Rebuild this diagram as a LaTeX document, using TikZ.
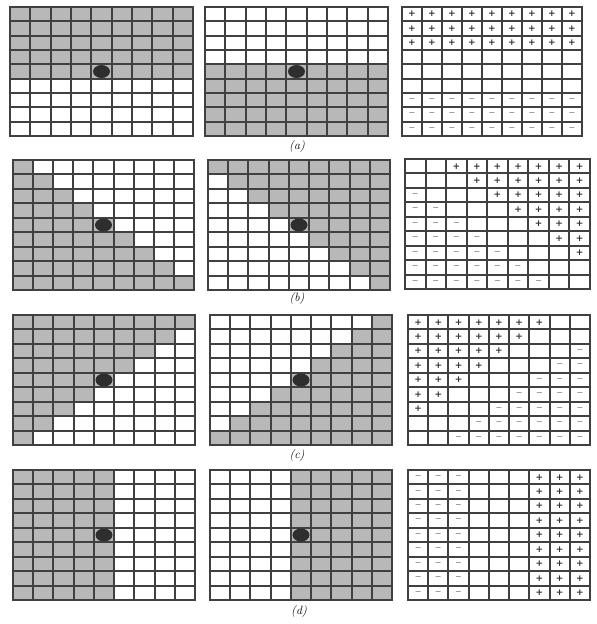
\documentclass[tikz,border=0pt]{standalone}
\usepackage{fontspec}
\newfontfamily\signfont{DejaVu Sans}
\tikzset{
  gcell/.style={fill=black!28},
  gline/.style={draw=black!75, line width=1.6pt},
  gframe/.style={draw=black!75, line width=2pt},
  dotmark/.style={fill=black!82},
  plusmark/.style={font=\signfont\bfseries\fontsize{9}{9}\selectfont, inner sep=0pt, text=black!80},
  minusmark/.style={font=\signfont\fontsize{8}{8}\selectfont, inner sep=0pt, text=black!55},
  caplabel/.style={font=\fontsize{12}{12}\selectfont\itshape, inner sep=1pt},
}
% grid lines of a 9x9 grid
\newcommand\gridlines[4]{%
  \pgfmathsetmacro\gxa{#1}\pgfmathsetmacro\gya{#2}%
  \pgfmathsetmacro\gcw{(#3-#1)/9}\pgfmathsetmacro\gch{(#4-#2)/9}%
  \foreach \i in {1,...,8}{%
    \draw[gline] ({round(\gxa+\i*\gcw)},#2) -- ({round(\gxa+\i*\gcw)},#4);
    \draw[gline] (#1,{round(\gya+\i*\gch)}) -- (#3,{round(\gya+\i*\gch)});
  }%
  \draw[gframe] (#1,#2) rectangle (#3,#4);
}
% shaded grid: x0 y0 x1 y1, first and last grey column as function of row \r
\newcommand\shadegrid[6]{%
  \pgfmathsetmacro\gxa{#1}\pgfmathsetmacro\gya{#2}%
  \pgfmathsetmacro\gcw{(#3-#1)/9}\pgfmathsetmacro\gch{(#4-#2)/9}%
  \foreach \r in {1,...,9}{%
    \pgfmathtruncatemacro\gcs{#5}\pgfmathtruncatemacro\gce{#6}%
    \ifnum\gcs>\gce\relax\else
      \fill[gcell] ({round(\gxa+(\gcs-1)*\gcw)},{round(\gya+(\r-1)*\gch)}) rectangle ({round(\gxa+\gce*\gcw)},{round(\gya+\r*\gch)});
    \fi
  }%
  \gridlines{#1}{#2}{#3}{#4}%
  \pgfmathsetmacro\gxa{#1}\pgfmathsetmacro\gya{#2}%
  \pgfmathsetmacro\gcw{(#3-#1)/9}\pgfmathsetmacro\gch{(#4-#2)/9}%
  \fill[dotmark] ({\gxa+4.5*\gcw},{\gya+4.5*\gch}) ellipse (8.5pt and 6.5pt);
}
% sign grid: x0 y0 x1 y1, plus first/last column, minus first/last column
\newcommand\signgrid[8]{%
  \gridlines{#1}{#2}{#3}{#4}%
  \pgfmathsetmacro\gxa{#1}\pgfmathsetmacro\gya{#2}%
  \pgfmathsetmacro\gcw{(#3-#1)/9}\pgfmathsetmacro\gch{(#4-#2)/9}%
  \foreach \r in {1,...,9}{%
    \pgfmathtruncatemacro\gps{#5}\pgfmathtruncatemacro\gpe{#6}%
    \pgfmathtruncatemacro\gms{#7}\pgfmathtruncatemacro\gme{#8}%
    \ifnum\gps>\gpe\relax\else
      \foreach \c in {\gps,...,\gpe}{%
        \node[plusmark] (p#2-\r-\c) at ({\gxa+(\c-0.5)*\gcw},{\gya+(\r-0.5)*\gch}) {+};
      }%
    \fi
    \ifnum\gms>\gme\relax\else
      \foreach \c in {\gms,...,\gme}{%
        \node[minusmark] (m#2-\r-\c) at ({\gxa+(\c-0.5)*\gcw},{\gya+(\r-0.5)*\gch}) {−};
      }%
    \fi
  }%
}
\begin{document}
\begin{tikzpicture}[x=1pt,y=-1pt]
\useasboundingbox[fill=white] (0,0) rectangle (597,624);
% row (a)
\shadegrid{10}{7}{193}{136}{1}{9*(\r<6)}
\shadegrid{205}{7}{388}{136}{1}{9*(\r>4)}
\signgrid{402}{7}{582}{136}{1}{9*(\r<4)}{1}{9*(\r>6)}
\node[caplabel] (la) at (297,147) {(a)};
% row (b)
\shadegrid{13}{160}{194}{290}{1}{\r}
\shadegrid{208}{160}{390}{290}{\r}{9}
\signgrid{405}{159}{590}{289}{\r+2}{9}{1}{\r-2}
\node[caplabel] (lb) at (297,299) {(b)};
% row (c)
\shadegrid{13}{315}{195}{445}{1}{10-\r}
\shadegrid{210}{315}{392}{445}{10-\r}{9}
\signgrid{408}{315}{590}{445}{1}{8-\r}{12-\r}{9}
\node[caplabel] (lc) at (297,456) {(c)};
% row (d)
\shadegrid{13}{470}{195}{600}{1}{5}
\shadegrid{210}{470}{392}{600}{5}{9}
\signgrid{408}{470}{590}{600}{7}{9}{1}{3}
\node[caplabel] (ld) at (299,611) {(d)};
\end{tikzpicture}
\end{document}
